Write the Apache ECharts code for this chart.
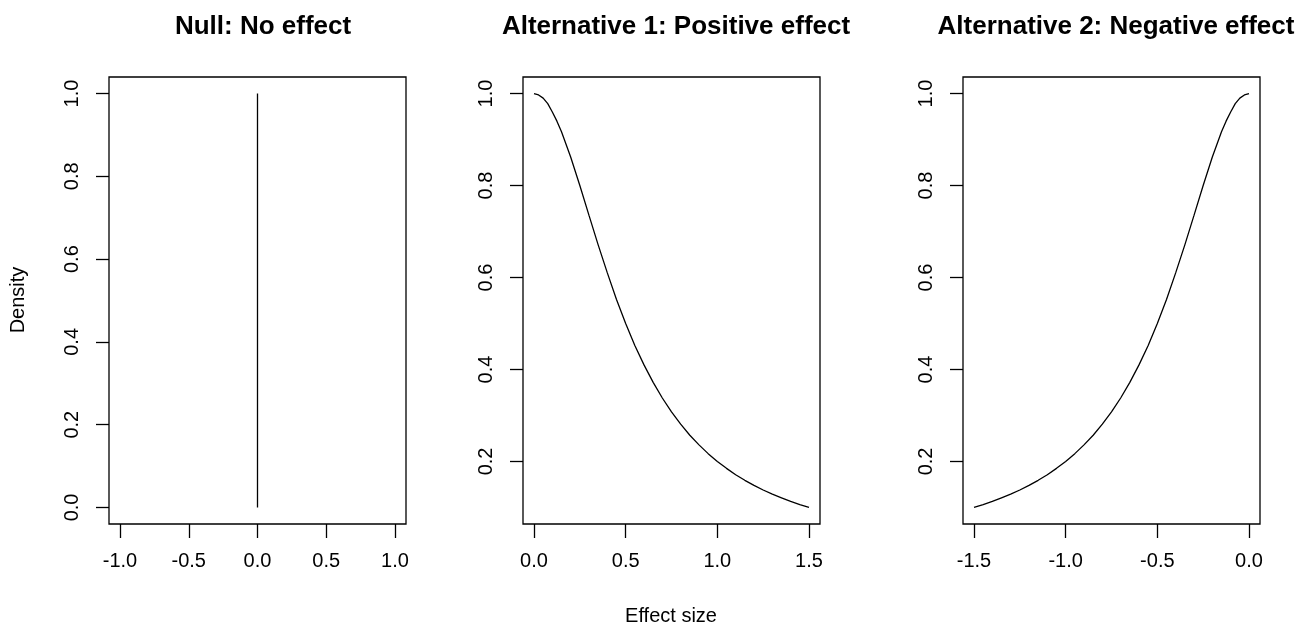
<!DOCTYPE html>
<html>
<head>
<meta charset="utf-8">
<script src="https://cdn.jsdelivr.net/npm/echarts@6/dist/echarts.min.js"></script>
<style>
html, body { margin: 0; padding: 0; background: #fff; }
#main { width: 1299px; height: 625px; }
</style>
</head>
<body>
<div id="main"></div>
<script>
// titles of the three panels
var panelTitles = ['Null: No effect', 'Alternative 1: Positive effect', 'Alternative 2: Negative effect'];

// panel 1: point mass at zero, drawn as a vertical segment
var nullX = [0, 0];
var nullY = [0, 1];

// panel 2: positive effect prior
var posX = [0, 0.025, 0.05, 0.075, 0.1, 0.125, 0.15, 0.2, 0.25, 0.3, 0.35, 0.4, 0.45, 0.5, 0.55, 0.6, 0.65, 0.7, 0.75, 0.8, 0.85, 0.9, 0.95,
            1.0, 1.05, 1.1, 1.15, 1.2, 1.25, 1.3, 1.35, 1.4, 1.45, 1.5];
var posY = [1.0, 0.997, 0.99, 0.978, 0.96, 0.94, 0.917, 0.862, 0.80, 0.735, 0.671, 0.61, 0.552, 0.50, 0.452, 0.41, 0.372, 0.338, 0.308, 0.281, 0.257, 0.236, 0.217,
            0.20, 0.185, 0.171, 0.159, 0.148, 0.138, 0.129, 0.121, 0.113, 0.106, 0.10];

// panel 3: negative effect prior
var negX = [-1.5, -1.45, -1.4, -1.35, -1.3, -1.25, -1.2, -1.15, -1.1, -1.05, -1.0, -0.95, -0.9, -0.85, -0.8, -0.75, -0.7, -0.65,
            -0.6, -0.55, -0.5, -0.45, -0.4, -0.35, -0.3, -0.25, -0.2, -0.15, -0.125, -0.1, -0.075, -0.05, -0.025, 0];
var negY = [0.10, 0.106, 0.113, 0.121, 0.129, 0.138, 0.148, 0.159, 0.171, 0.185, 0.20, 0.217, 0.236, 0.257, 0.281, 0.308, 0.338, 0.372,
            0.41, 0.452, 0.50, 0.552, 0.61, 0.671, 0.735, 0.80, 0.862, 0.917, 0.94, 0.96, 0.978, 0.99, 0.997, 1.0];

// tick labels
var xTicks1 = [-1.0, -0.5, 0.0, 0.5, 1.0];
var xTicks2 = [0.0, 0.5, 1.0, 1.5];
var xTicks3 = [-1.5, -1.0, -0.5, 0.0];
var yTicks1 = [0.0, 0.2, 0.4, 0.6, 0.8, 1.0];
var yTicks23 = [0.2, 0.4, 0.6, 0.8, 1.0];

function pairs(xs, ys) {
    var res = [];
    for (var i = 0; i < xs.length; i++) {
        res.push([xs[i], ys[i]]);
    }
    return res;
}

var font = 'Liberation Sans, Arial, Helvetica, sans-serif';

function xAxisFor(idx, min, max, ticks) {
    return {
        type: 'value',
        gridIndex: idx,
        min: min,
        max: max,
        axisLine: { show: false, onZero: false },
        splitLine: { show: false },
        axisTick: {
            show: true, inside: false, length: 14, customValues: ticks,
            lineStyle: { color: '#000', width: 1.3 }
        },
        axisLabel: {
            customValues: ticks, margin: 27, color: '#000', fontSize: 20, fontFamily: font,
            formatter: function (v) { return v.toFixed(1); }
        }
    };
}

function yAxisFor(idx, min, max, ticks) {
    return {
        type: 'value',
        gridIndex: idx,
        min: min,
        max: max,
        axisLine: { show: false, onZero: false },
        splitLine: { show: false },
        axisTick: {
            show: true, inside: false, length: 13, customValues: ticks,
            lineStyle: { color: '#000', width: 1.3 }
        },
        axisLabel: {
            customValues: ticks, rotate: 90, margin: 27, color: '#000', fontSize: 20, fontFamily: font,
            formatter: function (v) { return v.toFixed(1); }
        }
    };
}

var gridBase = { top: 77, height: 447, width: 297, show: true, borderColor: '#000', borderWidth: 1.3, backgroundColor: 'transparent' };
var titleStyle = { fontSize: 26, fontWeight: 'bold', color: '#000', fontFamily: font };

var chart = echarts.init(document.getElementById('main'));
var option = {
    animation: false,
    backgroundColor: '#fff',
    title: [
        { text: panelTitles[0], left: 258, top: 9, textAlign: 'center', textStyle: titleStyle },
        { text: panelTitles[1], left: 671, top: 9, textAlign: 'center', textStyle: titleStyle },
        { text: panelTitles[2], left: 1111, top: 9, textAlign: 'center', textStyle: titleStyle }
    ],
    graphic: [
        { type: 'text', x: 18, y: 300, rotation: Math.PI / 2, style: { text: 'Density', fill: '#000', fontSize: 20, fontFamily: font, textAlign: 'center', textVerticalAlign: 'middle' } },
        { type: 'text', x: 671, y: 616, style: { text: 'Effect size', fill: '#000', fontSize: 20, fontFamily: font, textAlign: 'center', textVerticalAlign: 'middle' } }
    ],
    grid: [
        Object.assign({}, gridBase, { left: 109 }),
        Object.assign({}, gridBase, { left: 523 }),
        Object.assign({}, gridBase, { left: 963 })
    ],
    xAxis: [
        xAxisFor(0, -1.08, 1.08, xTicks1),
        xAxisFor(1, -0.06, 1.56, xTicks2),
        xAxisFor(2, -1.56, 0.06, xTicks3)
    ],
    yAxis: [
        yAxisFor(0, -0.04, 1.04, yTicks1),
        yAxisFor(1, 0.064, 1.036, yTicks23),
        yAxisFor(2, 0.064, 1.036, yTicks23)
    ],
    series: [
        { type: 'line', xAxisIndex: 0, yAxisIndex: 0, data: pairs(nullX, nullY), showSymbol: false, lineStyle: { color: '#000', width: 1.3 } },
        { type: 'line', xAxisIndex: 1, yAxisIndex: 1, data: pairs(posX, posY), showSymbol: false, lineStyle: { color: '#000', width: 1.3 } },
        { type: 'line', xAxisIndex: 2, yAxisIndex: 2, data: pairs(negX, negY), showSymbol: false, lineStyle: { color: '#000', width: 1.3 } }
    ]
};
chart.setOption(option);
</script>
</body>
</html>
